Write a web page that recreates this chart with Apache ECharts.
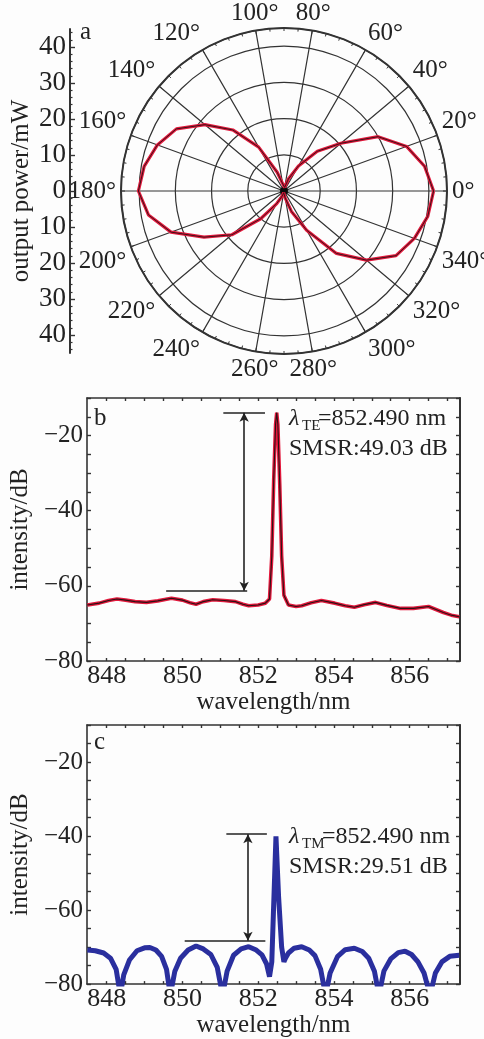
<!DOCTYPE html>
<html>
<head>
<meta charset="utf-8">
<script src="https://cdn.jsdelivr.net/npm/echarts@6/dist/echarts.min.js"></script>
<style>
html,body{margin:0;padding:0;background:#fdfdfd;}
#chart{width:484px;height:1039px;}
</style>
</head>
<body>
<div id="chart"></div>
<script>
// ---------- Panel a: polar output power ----------
const angleDeg = [0,10,20,30,40,50,60,70,80,90,100,110,120,130,140,150,160,170,
                  180,190,200,210,220,230,240,250,260,270,280,290,300,310,320,330,340,350];
const powerMW  = [41.3,39.4,36,30,20.5,14.3,8,3.5,1,0.5,2,5.5,14,22,28.5,34.3,37.2,39.2,
                  40.2,38,33.2,25.5,18.8,10,4,1.5,0.5,0.5,2,6,12.5,22.5,29.7,35.7,38.3,40.3];
const centerPoint = [[0, 0]];
const powerAxisLabels = [-40,-30,-20,-10,0,10,20,30,40];
const powerAxisMinor = [-44,-42,-38,-36,-34,-32,-28,-26,-24,-22,-18,-16,-14,-12,-8,-6,-4,-2,
                        2,4,6,8,12,14,16,18,22,24,26,28,32,34,36,38,42,44];

// ---------- Panel b: TE spectrum ----------
const wavelengthB = [847.49,847.8,848.05,848.27,848.5,848.75,849.05,849.35,849.71,850.0,850.2,850.36,
  850.55,850.8,851.1,851.4,851.6,851.75,852.0,852.19,852.3,852.36,852.41,852.46,852.49,852.52,852.57,
  852.62,852.68,852.8,853.0,853.15,853.4,853.67,854.02,854.3,854.54,854.8,855.1,855.4,855.76,856.1,
  856.5,856.89,857.1,857.31];
const intensityB = [-65.1,-64.6,-63.9,-63.5,-63.8,-64.2,-64.4,-64.0,-63.3,-63.8,-64.5,-64.9,
  -64.2,-63.7,-63.9,-64.2,-64.9,-65.3,-65.1,-64.6,-63.5,-52,-32,-17,-13.9,-17,-33,
  -52,-62.5,-65.1,-65.5,-65.3,-64.5,-63.9,-64.6,-65.3,-65.7,-65.0,-64.4,-65.2,-66.0,-66.0,
  -65.5,-67.1,-67.8,-68.2];
const bracketB = [[851.08, 852.18, -13.9], [849.57, 851.71, -61.3]]; // [x0, x1, y]
const arrowB = [851.63, -13.9, -61.3]; // [x, yTop, yBottom]

// ---------- Panel c: TM spectrum ----------
const wavelengthC = [847.49,847.7,847.92,848.1,848.25,848.36,848.45,848.6,848.8,849.0,849.14,849.3,
  849.45,849.58,849.68,849.8,849.95,850.15,850.36,850.55,850.75,850.92,851.06,851.18,851.35,851.55,
  851.75,851.95,852.1,852.22,852.3,852.36,852.47,852.54,852.62,852.68,852.72,852.8,852.95,853.15,
  853.35,853.5,853.65,853.78,853.9,854.1,854.3,854.54,854.75,854.92,855.07,855.19,855.32,855.5,
  855.7,855.88,856.05,856.22,856.38,856.54,856.68,856.85,857.06,857.31];
const intensityC = [-70.8,-71.0,-71.6,-73.0,-76,-83,-77.5,-73.5,-71,-70.2,-70.1,-70.8,
  -72.5,-76,-83,-76.5,-73,-70.8,-69.7,-70.5,-72,-75.5,-83,-76.5,-72.2,-70.5,
  -69.9,-70.8,-72.1,-74.5,-78,-74,-40.1,-56.5,-70,-74,-73,-71.6,-70.3,-69.9,
  -70.8,-72.3,-76,-83,-77,-72.5,-70.7,-70.3,-71.2,-73,-76.5,-83,-76.5,-73.2,
  -71.5,-71.1,-72,-74,-77,-83,-77,-74,-72.5,-72.2];
const bracketC = [[851.16, 852.23, -39.5], [850.06, 852.19, -68.3]];
const arrowC = [851.73, -39.5, -68.3];

// ---------- shared axis ticks ----------
const wlTicks = [848,848.5,849,849.5,850,850.5,851,851.5,852,852.5,853,853.5,854,854.5,855,855.5,856,856.5,857];
const wlLabels = [848,850,852,854,856];
const dbTicks = [-80,-75,-70,-65,-60,-55,-50,-45,-40,-35,-30,-25,-20,-15,-10];
const dbLabels = [-80,-60,-40,-20];

const FONT = '"Liberation Serif","Times New Roman",serif';
const INK = '#222';
const AX = '#333';

function pairs(xs, ys){ return xs.map((x,i)=>[x, ys[i]]); }
const polarData = angleDeg.map((a,i)=>[powerMW[i], a]);
polarData.push([powerMW[0], 360]);

function markLinesFor(br, ar){
  const d = br.map(b => [{coord:[b[0], b[2]]}, {coord:[b[1], b[2]]}]);
  d.push([{coord:[ar[0], ar[1]], symbol:'arrow'}, {coord:[ar[0], ar[2]], symbol:'arrow'}]);
  return {
    silent:true, symbol:['none','none'], symbolSize:[7,9], animation:false,
    label:{show:false},
    lineStyle:{color:INK, width:1.6, type:'solid'},
    emphasis:{disabled:true},
    data:d
  };
}

function xAxesFor(gridIndex){
  return [
    {gridIndex, type:'value', min:847.48, max:857.33, position:'bottom',
     axisLine:{onZero:false, lineStyle:{color:AX, width:1.6}},
     axisTick:{inside:true, length:3, customValues:wlTicks, lineStyle:{color:AX, width:1.4}},
     axisLabel:{customValues:wlLabels, fontFamily:FONT, fontSize:26, color:INK, margin:2},
     splitLine:{show:false},
     name:'wavelength/nm', nameLocation:'middle', nameGap:28,
     nameTextStyle:{fontFamily:FONT, fontSize:25, color:INK}},
    {gridIndex, type:'value', min:847.48, max:857.33, position:'top',
     axisLine:{onZero:false, lineStyle:{color:AX, width:1.6}},
     axisTick:{inside:true, length:3, customValues:wlTicks, lineStyle:{color:AX, width:1.4}},
     axisLabel:{show:false}, splitLine:{show:false}}
  ];
}
function yAxesFor(gridIndex){
  return [
    {gridIndex, type:'value', min:-80, max:-10, position:'left',
     axisLine:{onZero:false, lineStyle:{color:AX, width:1.6}},
     axisTick:{inside:true, length:4, customValues:dbTicks, lineStyle:{color:AX, width:1.4}},
     axisLabel:{customValues:dbLabels, fontFamily:FONT, fontSize:25, color:INK, margin:4,
       formatter:v => (v<0?'\u2212':'') + Math.abs(v)},
     splitLine:{show:false},
     name:'intensity/dB', nameLocation:'middle', nameGap:50,
     nameTextStyle:{fontFamily:FONT, fontSize:25, color:INK}},
    {gridIndex, type:'value', min:-80, max:-10, position:'right',
     axisLine:{onZero:false, lineStyle:{color:AX, width:2}},
     axisTick:{inside:true, length:4, customValues:dbTicks, lineStyle:{color:AX, width:1.4}},
     axisLabel:{show:false}, splitLine:{show:false}}
  ];
}

function txt(x, y, s, size, extra){
  return {type:'text', x, y, silent:true,
    style:Object.assign({text:s, fontFamily:FONT, fontSize:size, fill:INK,
      verticalAlign:'middle'}, extra||{})};
}

const chart = echarts.init(document.getElementById('chart'), null, {renderer:'canvas'});
chart.setOption({
  animation:false,
  backgroundColor:'#fdfdfd',
  polar:{center:[284,191], radius:163},
  angleAxis:{
    type:'value', min:0, max:360, interval:20, startAngle:0, clockwise:false,
    axisLine:{lineStyle:{color:AX, width:2}},
    axisTick:{show:true, inside:true, length:4, lineStyle:{color:AX}},
    minorTick:{show:true, splitNumber:4, length:3, lineStyle:{color:AX}},
    axisLabel:{fontFamily:FONT, fontSize:25, color:INK, margin:5,
      formatter:v => (v>=360 ? '' : v + '\u00b0')},
    splitLine:{show:true, lineStyle:{color:AX, width:1.2}}
  },
  radiusAxis:{
    type:'value', min:0, max:45, interval:10,
    axisLine:{show:false}, axisTick:{show:false}, axisLabel:{show:false},
    splitLine:{show:true, lineStyle:{color:AX, width:1.2}}
  },
  grid:[
    {left:70, top:29, width:1, height:324, show:false},
    {left:83, top:398, width:377, height:263, show:false},
    {left:83, top:725, width:377, height:263, show:false}
  ],
  xAxis:[
    {gridIndex:0, type:'value', show:false}
  ].concat(xAxesFor(1), xAxesFor(2)),
  yAxis:[
    {gridIndex:0, type:'value', min:-45, max:45, position:'left',
     axisLine:{onZero:false, lineStyle:{color:AX, width:2}},
     axisTick:{inside:true, length:5, customValues:powerAxisLabels, lineStyle:{color:AX, width:1.4}},
     axisLabel:{customValues:powerAxisLabels, fontFamily:FONT, fontSize:27, color:INK, margin:4,
       formatter:v => String(Math.abs(v))},
     splitLine:{show:false},
     name:'output power/mW', nameLocation:'middle', nameGap:36,
     nameTextStyle:{fontFamily:FONT, fontSize:25, color:INK}},
    {gridIndex:0, type:'value', min:-45, max:45, position:'left',
     axisLine:{show:false},
     axisTick:{inside:true, length:2.5, customValues:powerAxisMinor, lineStyle:{color:AX, width:1.2}},
     axisLabel:{show:false}, splitLine:{show:false}}
  ].concat(yAxesFor(1), yAxesFor(2)),
  series:[
    {type:'line', coordinateSystem:'polar', data:polarData, symbol:'none', silent:true,
     lineStyle:{color:'#e2183c', width:3.2}},
    {type:'line', coordinateSystem:'polar', data:polarData, symbol:'none', silent:true,
     lineStyle:{color:'#3a1418', width:1}},
    {type:'scatter', coordinateSystem:'polar', data:centerPoint, symbol:'circle', symbolSize:8,
     silent:true, itemStyle:{color:'#000'}},
    {type:'line', xAxisIndex:1, yAxisIndex:2, data:pairs(wavelengthB, intensityB), symbol:'none',
     silent:true, lineStyle:{color:'#e2183c', width:3.6}, markLine:markLinesFor(bracketB, arrowB)},
    {type:'line', xAxisIndex:1, yAxisIndex:2, data:pairs(wavelengthB, intensityB), symbol:'none',
     silent:true, lineStyle:{color:'#2a1214', width:1.1}},
    {type:'line', xAxisIndex:3, yAxisIndex:4, data:pairs(wavelengthC, intensityC), symbol:'none',
     silent:true, clip:true, lineStyle:{color:'#2a2f9e', width:5},
     markLine:markLinesFor(bracketC, arrowC)}
  ],
  graphic:[
    txt(80, 32, 'a', 25),
    txt(94, 418, 'b', 25),
    txt(94, 742, 'c', 25),
    txt(289, 419, '\u03bb', 24, {fontStyle:'italic'}),
    txt(302, 426, 'TE', 15),
    txt(318, 419, '=852.490 nm', 24),
    txt(289, 449, 'SMSR:49.03 dB', 24),
    txt(289, 837, '\u03bb', 24, {fontStyle:'italic'}),
    txt(302, 844, 'TM', 15),
    txt(322, 837, '=852.490 nm', 24),
    txt(289, 867, 'SMSR:29.51 dB', 24)
  ]
});
</script>
</body>
</html>
